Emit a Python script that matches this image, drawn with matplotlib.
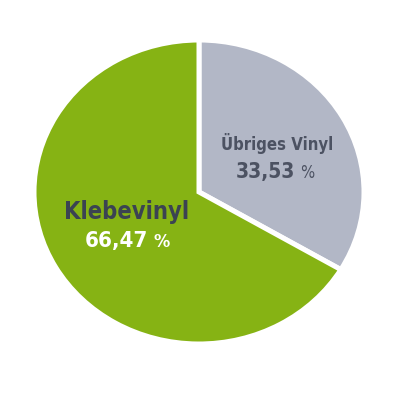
import matplotlib
matplotlib.use("Agg")
import matplotlib.pyplot as plt

categories = ["Übriges Vinyl", "Klebevinyl"]
values = [33.53, 66.47]
value_labels = ["33,53", "66,47"]
colors = ["#b2b7c6", "#86b314"]

W, H = 400, 400
fig = plt.figure(figsize=(4, 4), dpi=100)
ax = fig.add_axes([0, 0, 1, 1])
ax.set_axis_off()

cx, cy = 199, 192
rx, ry = 165, 152
ax.pie(values, colors=colors, startangle=90, counterclock=False,
       radius=1, center=(0, 0),
       wedgeprops=dict(edgecolor="white", linewidth=3.6))
ax.set_aspect("auto")
ax.set_xlim(-cx / rx, (W - cx) / rx)
ax.set_ylim(-(H - cy) / ry, cy / ry)

fam = ["DejaVu Sans"]
st = "condensed"

def px(x, y):
    return x / W, 1 - y / H

# Übriges Vinyl
fig.text(*px(277, 143), categories[0], ha="center", va="center",
         fontsize=12, fontweight="bold", color="#4c5262", family=fam, fontstretch=st)
fig.text(*px(295, 172), value_labels[0], ha="right", va="center",
         fontsize=15, fontweight="bold", color="#4c5262", family=fam, fontstretch=st)
fig.text(*px(300, 173), "%", ha="left", va="center",
         fontsize=12, color="#4c5262", family=fam, fontstretch=st)

# Klebevinyl
fig.text(*px(127, 212), categories[1], ha="center", va="center",
         fontsize=17, fontweight="bold", color="#3b4352", family=fam, fontstretch=st)
fig.text(*px(148, 241), value_labels[1], ha="right", va="center",
         fontsize=16, fontweight="bold", color="white", family=fam, fontstretch=st)
fig.text(*px(153, 242), "%", ha="left", va="center",
         fontsize=13, fontweight="bold", color="white", family=fam, fontstretch=st)

fig.savefig("out.png", dpi=100, facecolor="white")
